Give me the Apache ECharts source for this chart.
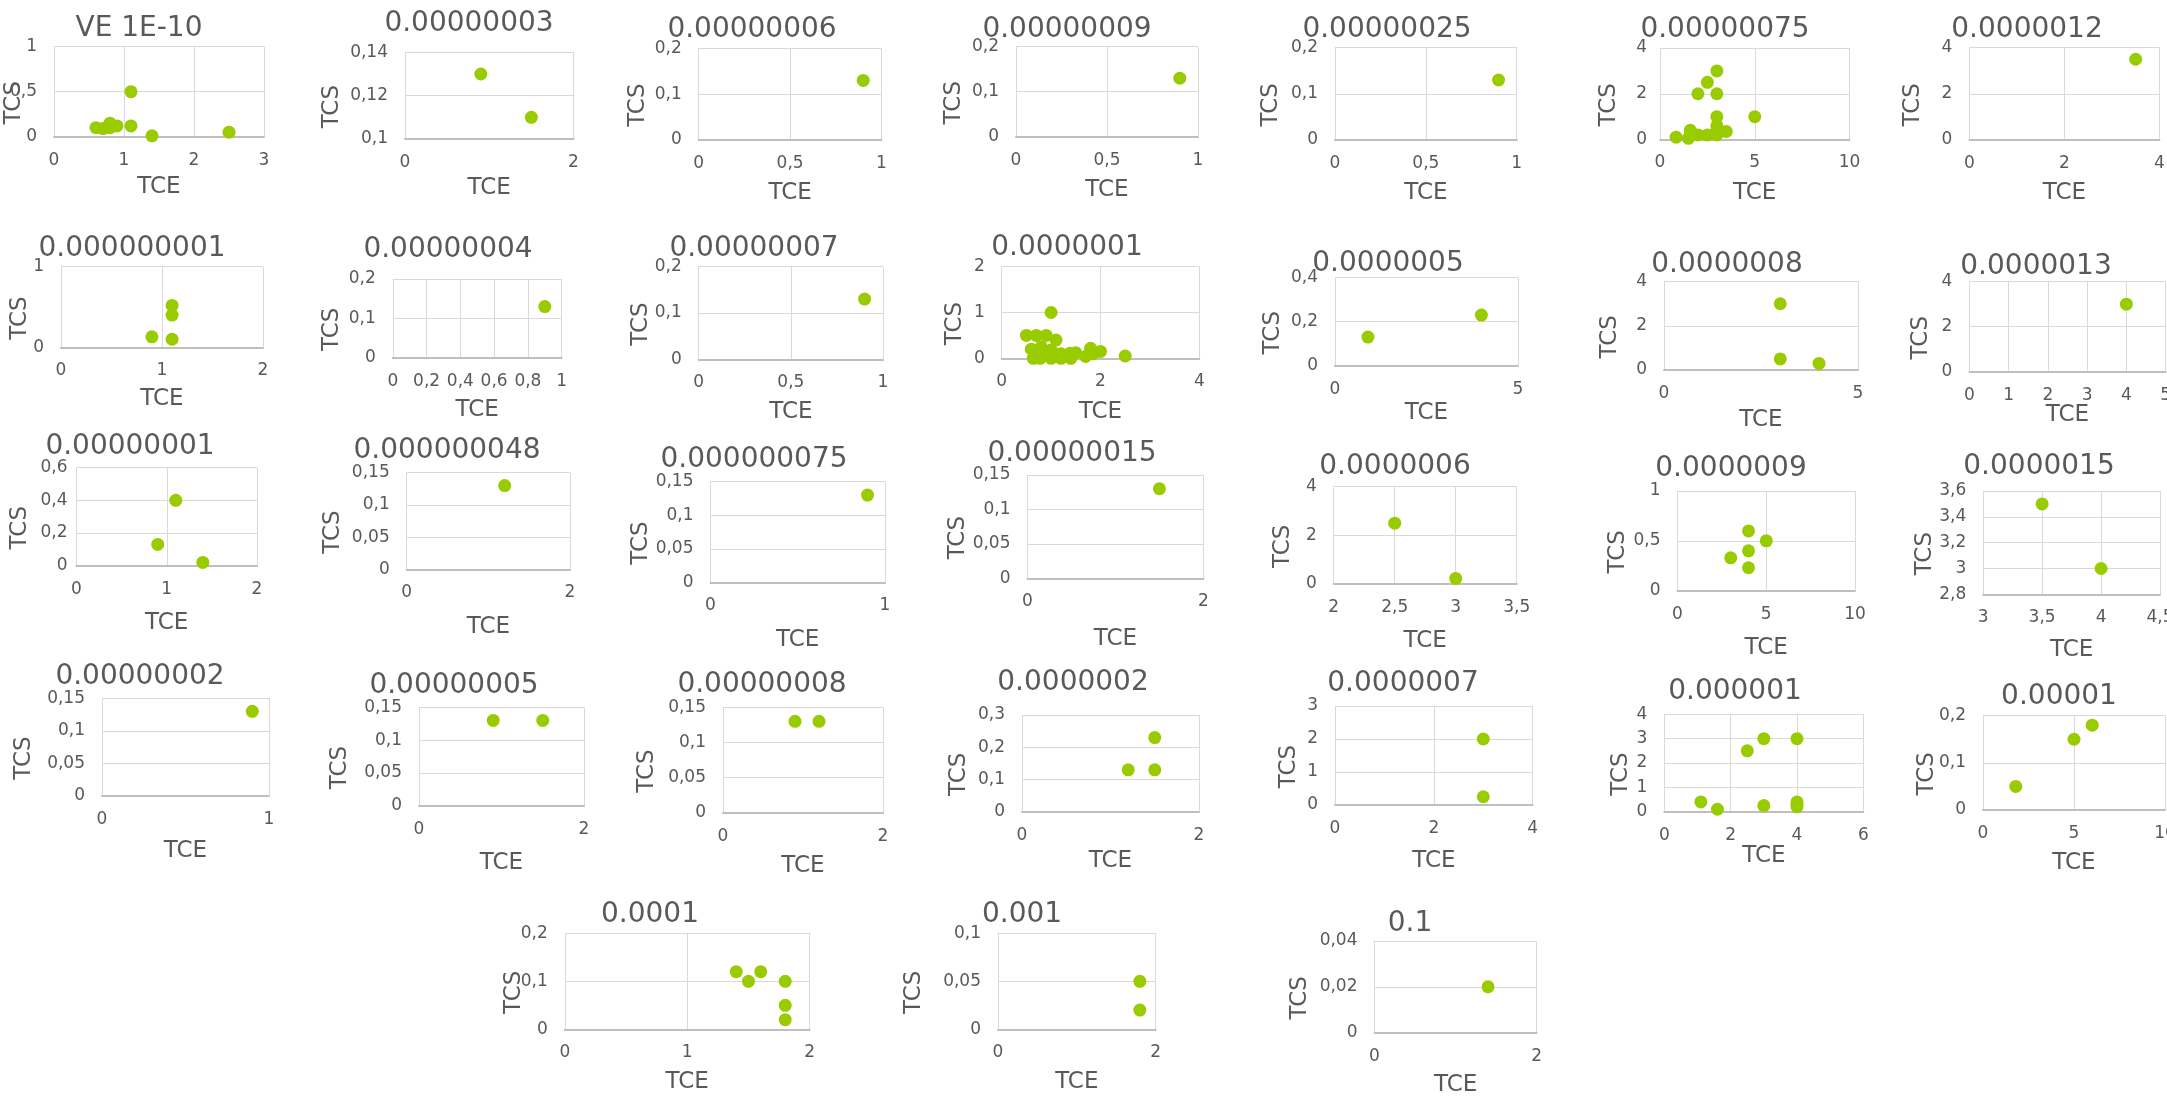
<!DOCTYPE html>
<html>
<head>
<meta charset="utf-8">
<script src="https://cdn.jsdelivr.net/npm/echarts@6/dist/echarts.min.js"></script>
<style>
  html, body { margin: 0; padding: 0; background: #ffffff; }
  #chart { width: 2167px; height: 1104px; }
</style>
</head>
<body>
<div id="chart"></div>
<script>
// ---- data: one small scatter per VE value ----
const titles = [
  'VE 1E-10', '0.00000003', '0.00000006', '0.00000009', '0.00000025', '0.00000075', '0.0000012',
  '0.000000001', '0.00000004', '0.00000007', '0.0000001', '0.0000005', '0.0000008', '0.0000013',
  '0.00000001', '0.000000048', '0.000000075', '0.00000015', '0.0000006', '0.0000009', '0.0000015',
  '0.00000002', '0.00000005', '0.00000008', '0.0000002', '0.0000007', '0.000001', '0.00001',
  '0.0001', '0.001', '0.1'
];
const xName = 'TCE';
const yName = 'TCS';

// [TCE, TCS] points of each panel
const s01 = [[0.6,0.1],[0.7,0.09],[0.8,0.15],[0.8,0.1],[0.9,0.12],[1.1,0.5],[1.1,0.12],[1.4,0.01],[2.5,0.05]];
const s02 = [[0.9,0.13],[1.5,0.11]];
const s03 = [[0.9,0.13]];
const s04 = [[0.9,0.13]];
const s05 = [[0.9,0.13]];
const s06 = [[0.85,0.1],[1.5,0.05],[1.6,0.4],[1.6,0.2],[2,0.2],[2.5,0.2],[3,0.4],[3,0.2],[3,0.6],[3.5,0.35],[3,1],[5,1],[2,2],[3,2],[2.5,2.5],[3,3]];
const s07 = [[3.5,3.5]];
const s08 = [[1.1,0.52],[1.1,0.4],[0.9,0.13],[1.1,0.1]];
const s09 = [[0.9,0.13]];
const s10 = [[0.9,0.13]];
const s11 = [[1,1],[0.5,0.5],[0.7,0.5],[0.9,0.5],[1.1,0.4],[0.6,0.2],[0.7,0.07],[0.8,0.25],[0.9,0.1],[0.78,0],[1,0],[1.2,0],[1.4,0],[1.2,0.1],[1.5,0.12],[1.7,0.04],[1.8,0.22],[1.85,0.1],[2,0.15],[2.5,0.05],[0.64,0],[1,0.18],[1.38,0.11]];
const s12 = [[0.9,0.13],[4,0.23]];
const s13 = [[3,3],[3,0.5],[4,0.3]];
const s14 = [[4,3]];
const s15 = [[1.1,0.4],[0.9,0.13],[1.4,0.02]];
const s16 = [[1.2,0.13]];
const s17 = [[0.9,0.13]];
const s18 = [[1.5,0.13]];
const s19 = [[2.5,2.5],[3,0.23]];
const s20 = [[4,0.6],[5,0.5],[4,0.4],[3,0.33],[4,0.23]];
const s21 = [[3.5,3.5],[4,3]];
const s22 = [[0.9,0.13]];
const s23 = [[0.9,0.13],[1.5,0.13]];
const s24 = [[0.9,0.13],[1.2,0.13]];
const s25 = [[1.2,0.13],[1.5,0.13],[1.5,0.23]];
const s26 = [[3,2],[3,0.25]];
const s27 = [[1.1,0.4],[1.6,0.1],[2.5,2.5],[3,3],[3,0.25],[4,3],[4,0.4],[4,0.3],[4,0.2]];
const s28 = [[1.8,0.05],[5,0.15],[6,0.18]];
const s29 = [[1.4,0.12],[1.5,0.1],[1.6,0.12],[1.8,0.1],[1.8,0.05],[1.8,0.02]];
const s30 = [[1.8,0.05],[1.8,0.02]];
const s31 = [[1.4,0.02]];
const seriesData = [s01,s02,s03,s04,s05,s06,s07,s08,s09,s10,s11,s12,s13,s14,s15,s16,s17,s18,s19,s20,s21,s22,s23,s24,s25,s26,s27,s28,s29,s30,s31];

// axis scales: [min, max, interval]
const xScale = [
  [0,3,1],[0,2,2],[0,1,0.5],[0,1,0.5],[0,1,0.5],[0,10,5],[0,4,2],
  [0,2,1],[0,1,0.2],[0,1,0.5],[0,4,2],[0,5,5],[0,5,5],[0,5,1],
  [0,2,1],[0,2,2],[0,1,1],[0,2,2],[2,3.5,0.5],[0,10,5],[3,4.5,0.5],
  [0,1,1],[0,2,2],[0,2,2],[0,2,2],[0,4,2],[0,6,2],[0,10,5],
  [0,2,1],[0,2,2],[0,2,2]
];
const yScale = [
  [0,1,0.5],[0.1,0.14,0.02],[0,0.2,0.1],[0,0.2,0.1],[0,0.2,0.1],[0,4,2],[0,4,2],
  [0,1,1],[0,0.2,0.1],[0,0.2,0.1],[0,2,1],[0,0.4,0.2],[0,4,2],[0,4,2],
  [0,0.6,0.2],[0,0.15,0.05],[0,0.15,0.05],[0,0.15,0.05],[0,4,2],[0,1,0.5],[2.8,3.6,0.2],
  [0,0.15,0.05],[0,0.15,0.05],[0,0.15,0.05],[0,0.3,0.1],[0,3,1],[0,4,1],[0,0.2,0.1],
  [0,0.2,0.1],[0,0.1,0.05],[0,0.04,0.02]
];

// ---- layout: plot boxes [left, top, right, bottom], title centres, axis-name gaps ----
const plotBox = [
  [54,46.7,264,136.7],[405,52.3,573.5,139],[698.7,48.3,881.5,140],[1016,46.7,1198,136.7],[1335,47.7,1516.7,140],[1660,48,1849.5,139.5],[1969.4,47.7,2159.4,140],
  [61,266.7,263,347.3],[392.8,279,561.7,357.7],[698.7,266.7,883,359.3],[1001.7,266.7,1199.3,358.3],[1335,277.7,1518,365.7],[1664,281.7,1857.8,370],[1969.4,281.7,2165.6,371.7],
  [76.5,467.7,257,565.7],[406.7,472.7,570,569.3],[710.5,481.7,885,582.3],[1027.5,475,1203.4,578.3],[1333.7,486.7,1516.7,584],[1677.5,491,1855,590.7],[1983.2,491,2160,594.3],
  [102,698.3,269,795.7],[419,707.3,584,805.7],[723,707.3,883,812.7],[1022,715,1199,811.7],[1335,706,1532.7,805],[1664.4,714.3,1863.3,811.7],[1983,715.7,2165,810],
  [564.8,933.3,809.7,1029.3],[998,933.3,1155.6,1029.3],[1374.5,941,1536.7,1032.7]
];
const titleAt = [
  [139,27],[469,22],[752,28],[1067,28],[1387,28],[1725,28],[2027,28],
  [132,247],[448,248],[754,247],[1067,246],[1388,262],[1727,263],[2036,265],
  [130,445],[447,449],[754,458],[1072,452],[1395,465],[1731,467],[2039,465],
  [140,675],[454,684],[762,683],[1073,681],[1403,682],[1735,690],[2059,695],
  [650,913],[1022,913],[1410,922]
];
const xNameGap = [39,38,42,42,42,42,42, 40,41,41,42,36,39,32, 46,46,46,49,46,46,44, 44,46,42,38,45,33,42, 41,41,41];
const yNameGap = [28,61,49,50,52,39,45, 29,49,46,35,50,42,37, 45,62,58,58,39,48,47, 66,67,64,51,34,32,44, 39,72,63];
const yLabelMargin = [17,17,17,17,17,13,17, 17,17,17,17,17,17,17, 9,17,17,17,17,17,17, 17,17,17,17,17,17,17, 17,17,17];

const FONT = 'DejaVu Sans';
const TXT = '#595959';
const DOT = '#99CC00';

function fmt(v) {
  return String(parseFloat(Number(v).toFixed(6))).replace('.', ',');
}

const grid = [], xAxis = [], yAxis = [], series = [], graphic = [];
plotBox.forEach(function (b, i) {
  grid.push({
    left: b[0], top: b[1], width: b[2] - b[0], height: b[3] - b[1],
    containLabel: false, outerBoundsMode: 'none'
  });
  xAxis.push({
    type: 'value', gridIndex: i,
    min: xScale[i][0], max: xScale[i][1], interval: xScale[i][2],
    axisLine: { show: true, onZero: false, lineStyle: { color: '#bfbfbf', width: 2 } },
    axisTick: { show: false },
    splitLine: { show: true, lineStyle: { color: '#d9d9d9', width: 1 } },
    axisLabel: { color: TXT, fontSize: 17, fontFamily: FONT, margin: 15, formatter: fmt },
    name: xName, nameLocation: 'middle', nameGap: xNameGap[i], nameMoveOverlap: false,
    nameTextStyle: { color: TXT, fontSize: 23, fontFamily: FONT }
  });
  yAxis.push({
    type: 'value', gridIndex: i,
    min: yScale[i][0], max: yScale[i][1], interval: yScale[i][2],
    axisLine: { show: false },
    axisTick: { show: false },
    splitLine: { show: true, lineStyle: { color: '#d9d9d9', width: 1 } },
    axisLabel: { color: TXT, fontSize: 17, fontFamily: FONT, margin: yLabelMargin[i], formatter: fmt },
    name: yName, nameLocation: 'middle', nameGap: yNameGap[i], nameMoveOverlap: false,
    nameTextStyle: { color: TXT, fontSize: 23, fontFamily: FONT, padding: [0, 22, 0, 0] }
  });
  series.push({
    type: 'scatter', xAxisIndex: i, yAxisIndex: i,
    data: seriesData[i], symbol: 'circle', symbolSize: 13,
    itemStyle: { color: DOT, opacity: 1 },
    clip: false
  });
  graphic.push({
    type: 'text', x: titleAt[i][0], y: titleAt[i][1] + 2, silent: true,
    style: { text: titles[i], font: '28px "' + FONT + '"', fill: TXT, align: 'center', verticalAlign: 'middle' }
  });
});

const chart = echarts.init(document.getElementById('chart'), null, { renderer: 'canvas' });
chart.setOption({
  backgroundColor: '#ffffff',
  animation: false,
  grid: grid, xAxis: xAxis, yAxis: yAxis, series: series,
  graphic: graphic
});
</script>
</body>
</html>
